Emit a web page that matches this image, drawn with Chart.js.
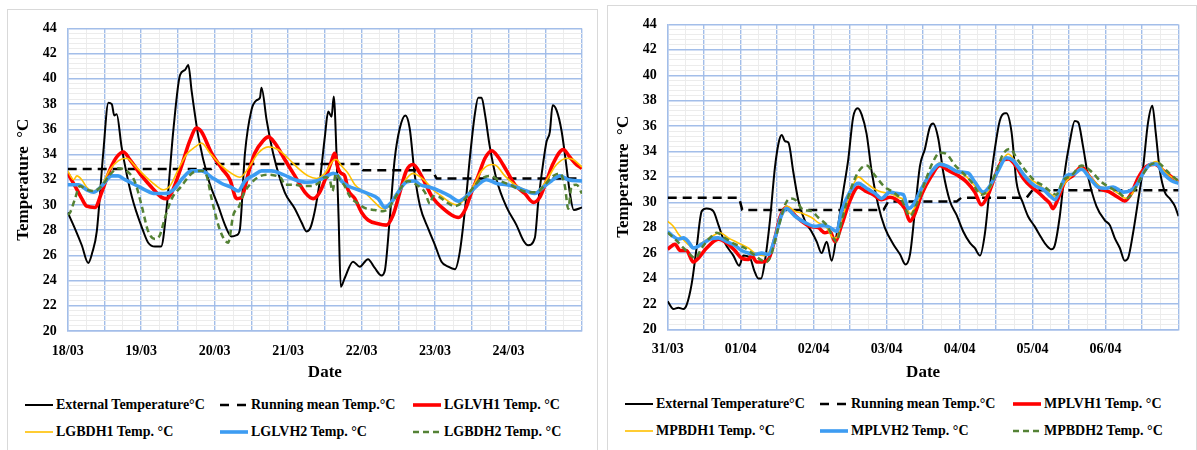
<!DOCTYPE html>
<html><head><meta charset="utf-8">
<script src="https://cdn.jsdelivr.net/npm/chart.js@4"></script>
<style>
html,body{margin:0;padding:0;background:#fff;width:1197px;height:450px;overflow:hidden;font-family:"Liberation Serif","Times New Roman",serif;}
.panel{position:absolute;border:1px solid #D9D9D9;background:#fff;box-sizing:border-box;}
.cv{position:absolute;}
.leg{position:absolute;font-weight:bold;font-size:14px;color:#000;white-space:nowrap;line-height:16px;}
.sw{position:absolute;}
</style></head><body>
<div class="panel" style="left:7px;top:9px;width:591px;height:446px"></div>
<div class="panel" style="left:607px;top:5px;width:590px;height:450px"></div>
<canvas id="c1" class="cv" style="left:7px;top:9px" width="590" height="381"></canvas>
<canvas id="c2" class="cv" style="left:607px;top:5px" width="588" height="385"></canvas>
<div id="legs"></div>
<script>
// ---------- categories / tick labels ----------
const L_DATES = ['18/03','19/03','20/03','21/03','22/03','23/03','24/03'];
const R_DATES = ['31/03','01/04','02/04','03/04','04/04','05/04','06/04'];
const L_NAMES = ['External Temperature\u00B0C','Running mean Temp.\u00B0C','LGLVH1 Temp. \u00B0C','LGBDH1 Temp. \u00B0C','LGLVH2 Temp. \u00B0C','LGBDH2 Temp. \u00B0C'];
const R_NAMES = ['External Temperature\u00B0C','Running mean Temp.\u00B0C','MPLVH1 Temp. \u00B0C','MPBDH1 Temp. \u00B0C','MPLVH2 Temp. \u00B0C','MPBDH2 Temp. \u00B0C'];

// ---------- left panel series: [hour from first date, °C] ----------
const L_EXT = [[0,29.4],[2.4,28.1],[4.6,26.8],[6.7,25.4],[8,26.2],[9.5,27.9],[11.6,34.1],[13.3,38.1],[14.4,38.0],[15.2,37.1],[16,37.2],[17.6,34.6],[20.9,30.7],[24.7,27.9],[26.3,27.0],[28.5,26.7],[30.5,26.7],[32.3,29.7],[34.5,35.9],[36.7,40.3],[38.3,40.7],[39.4,41.1],[40.5,39.0],[42.7,35.4],[46,32.0],[49.2,29.9],[51.4,28.4],[53.5,27.5],[55.2,27.6],[56.2,28.0],[57.9,34.1],[60,37.5],[61.7,38.3],[62.8,38.5],[63.3,39.3],[65,36.7],[67.1,34.1],[70.9,31.0],[74.2,29.7],[76.4,28.6],[78,27.9],[79.6,28.4],[82.3,31.8],[84,35.4],[85.1,37.4],[86.2,37.0],[86.9,38.6],[87.8,34.1],[88.5,28.9],[89.2,23.5],[90.5,24.2],[93.2,25.5],[95.4,25.1],[98.1,25.7],[100.3,25.0],[102.5,24.4],[103.6,24.8],[105.2,28.9],[106.8,33.6],[108.5,36.1],[110.3,37.1],[111.7,36.1],[113.4,32.3],[115.1,29.9],[117.8,28.1],[120,26.8],[122.1,25.5],[124.3,25.1],[126.5,24.9],[128.1,26.3],[129.8,29.7],[131.4,33.8],[133,37.2],[134.1,38.5],[135.2,38.5],[136.3,37.2],[137.9,34.6],[140.1,32.0],[143.4,29.8],[146.6,28.4],[148.8,27.2],[150.4,26.8],[152.6,27.4],[153.7,30.2],[155.3,33.3],[156.4,35.0],[157.5,35.8],[158.4,37.9],[159.7,37.5],[161.3,35.9],[162.9,33.1],[164,31.0],[165.3,29.6],[168,29.8]];
const L_MEAN = [[0,32.85],[47,32.85],[48.5,33.25],[95,33.25],[96.5,32.75],[119,32.75],[120.5,32.1],[168,32.1]];
const L_VH1 = [[0,32.5],[2.4,31.5],[4.6,30.5],[6.2,29.9],[8.9,29.8],[11.1,31.0],[13.8,32.8],[16,33.8],[18.2,34.2],[20.3,33.6],[24.2,32.3],[27.4,31.4],[30.7,30.6],[32.3,30.5],[34,31.0],[37.2,33.1],[39.9,35.1],[42.1,36.1],[43.7,35.8],[47,34.1],[50.3,32.9],[53,32.0],[55.2,30.5],[56.8,30.6],[59,32.5],[61.1,34.1],[63.9,35.1],[65.5,35.4],[67.7,34.9],[70.9,33.6],[74.2,32.3],[77.5,31.0],[80.2,30.5],[82.3,31.0],[84.5,32.3],[86.2,33.5],[87.2,34.1],[88.3,32.9],[89.4,32.5],[90.5,32.3],[91.6,31.2],[93.8,30.5],[96,29.4],[98.1,28.8],[101.4,28.5],[104.1,28.4],[106.3,29.2],[108.5,31.0],[110.6,32.7],[112.8,33.2],[115.1,32.5],[117.2,31.5],[118.9,30.7],[120.5,30.2],[122.7,29.7],[125.4,29.2],[127.6,29.0],[129.8,29.6],[131.9,31.0],[134.1,32.3],[136.3,33.7],[138.5,34.3],[140.6,33.8],[143.4,32.7],[146.1,31.6],[149.3,30.9],[152.1,30.2],[154.2,30.6],[156.4,31.9],[158.6,33.3],[161.9,34.4],[164,33.8],[166.2,33.2],[168,32.9]];
const L_BD1 = [[0,32.7],[1.9,32.0],[3,32.3],[4.6,32.0],[6.2,31.4],[8.4,31.1],[11.1,31.6],[13.8,32.8],[16.5,33.5],[19.3,33.7],[22,33.1],[25.2,32.3],[28.5,31.6],[31.2,31.2],[33.4,31.5],[36.1,32.8],[38.8,34.0],[41.6,34.6],[43.7,34.9],[46.5,34.1],[50.3,33.1],[53.5,32.5],[56.3,32.2],[59,32.9],[62.2,34.1],[65.5,34.6],[68.7,34.4],[72,33.7],[75.3,32.9],[78.5,32.3],[81.3,32.1],[84,32.5],[86.7,33.5],[87.8,33.6],[89.4,33.1],[91.6,32.5],[93.8,31.6],[97,31.0],[100.3,30.2],[103,29.7],[105.2,29.9],[107.4,30.7],[110.1,31.9],[112.8,32.5],[114,32.4],[116.7,31.9],[119.4,31.2],[122.1,30.7],[124.9,30.2],[127,30.0],[129.8,30.5],[132.5,31.5],[135.2,32.7],[138.5,33.2],[140.1,33.1],[142.8,32.3],[146.1,31.6],[149.3,31.2],[152.1,31.0],[154.2,31.2],[157,32.2],[159.7,33.2],[163,33.7],[165.1,33.6],[168,33.0]];
const L_VH2 = [[0,31.6],[3.5,31.6],[6.2,31.2],[8.4,31.0],[11.1,31.5],[14.4,32.3],[16.5,32.3],[18.7,32.0],[22,31.6],[25.2,31.2],[28.5,30.9],[31.8,30.9],[34.5,31.2],[37.8,32.2],[40.5,32.7],[43.7,32.7],[47,32.2],[50.3,31.7],[53.5,31.4],[55.7,31.1],[57.9,31.9],[61.1,32.4],[63.3,32.7],[66.6,32.7],[70.4,32.4],[74.2,32.0],[78,31.8],[81.3,31.9],[84,32.2],[86.7,32.5],[88.3,32.3],[89.4,31.9],[91.6,31.5],[94.9,31.2],[98.1,30.9],[101.4,30.5],[103.6,29.8],[105.7,30.2],[107.9,31.0],[110.6,31.8],[113.4,31.9],[115.1,31.6],[118.3,31.4],[121.6,31.1],[124.9,30.7],[127.6,30.3],[130.3,30.7],[133.6,31.5],[136.8,32.0],[140.1,31.7],[143.4,31.6],[146.6,31.4],[149.9,31.1],[152.6,30.9],[155.3,31.4],[158,31.9],[160.8,32.3],[163.5,32.0],[168,31.9]];
const L_BD2 = [[0,29.2],[0.8,29.4],[2.4,30.5],[4,31.5],[6.2,31.2],[8.4,31.1],[11.1,31.5],[13.8,32.4],[16.5,32.9],[19.3,32.7],[22,31.8],[24.2,29.9],[26.3,27.9],[28.5,27.3],[30.1,27.6],[31.8,29.0],[34,30.5],[37.2,31.5],[40.5,32.5],[43.7,32.7],[45.4,32.3],[47,30.5],[49.2,28.4],[50.8,27.4],[52.4,27.0],[54.1,29.2],[56,29.9],[57.5,30.9],[59.5,31.6],[62.2,32.2],[65.5,32.4],[68.2,32.3],[69.8,32.1],[70.9,31.6],[74.2,31.6],[76.4,31.5],[79.6,31.5],[82.3,31.8],[84,32.2],[85.6,32.0],[86.5,31.1],[87.6,32.5],[88.9,32.0],[90.5,31.5],[92.1,30.7],[94.9,30.1],[97.6,29.7],[100.3,29.6],[103,29.5],[104.7,29.7],[106.8,30.5],[109,31.4],[111.2,31.9],[113.9,31.6],[116.7,31.0],[118.3,30.1],[119.4,30.7],[121.6,30.6],[123.8,30.2],[126.5,29.9],[129.2,30.3],[131.9,31.2],[134.7,32.0],[137.9,32.3],[141.2,31.9],[144.5,31.6],[147.7,31.2],[151,31.0],[153.2,31.0],[155.9,31.6],[158.6,32.3],[160.8,32.5],[162.4,31.5],[163.5,29.7],[164.6,31.5],[166.2,31.6],[168,30.9]];

// ---------- right panel series ----------
const R_EXT = [[0,22.2],[1.9,21.6],[3.5,21.7],[5.2,21.6],[6.2,21.9],[7.9,23.6],[9.5,26.4],[11.2,29.3],[12.8,29.5],[15,29.3],[16.7,28.2],[18.8,26.8],[21.6,25.8],[23.5,25.0],[24.9,25.8],[27.1,25.6],[28.5,24.6],[29.8,24.0],[30.7,24.0],[32,25.4],[33.6,28.5],[35.3,32.8],[36.6,34.8],[37.5,35.3],[38.6,34.8],[39.7,34.7],[41.3,32.4],[43,30.1],[45.2,28.5],[47.3,27.7],[49,26.9],[50.6,26.0],[52.3,26.9],[53.9,25.4],[55.6,27.5],[57.7,30.8],[59.4,33.4],[61,36.7],[62.5,37.4],[63.8,36.9],[65.4,35.4],[67.1,32.4],[69.2,29.8],[71.4,28.0],[74.2,26.7],[76.4,25.9],[78.2,25.1],[79.7,25.9],[81.3,29.3],[83,32.9],[84.6,34.2],[86.2,35.9],[87.3,36.2],[89,35.0],[90.6,32.4],[92.8,30.1],[95,29.0],[97.2,27.7],[99.4,26.8],[101,26.4],[102.7,25.8],[104.3,27.5],[106,31.3],[107.6,34.2],[109.2,36.4],[110.9,37.0],[111.4,37.0],[113.1,35.5],[114.7,31.6],[116.9,29.9],[118.5,28.9],[120.7,28.1],[122.9,27.2],[124.6,26.6],[126.2,26.3],[127.3,26.6],[128.9,28.8],[130.6,32.4],[132.2,34.7],[133.9,36.4],[135,36.3],[136.6,34.4],[138.3,32.0],[141,29.7],[143.7,28.6],[145.4,28.2],[147,27.2],[148.7,26.4],[150.3,25.4],[151.4,25.6],[153,27.5],[154.7,30.1],[156.3,32.6],[158,36.3],[159.4,37.6],[160.5,35.5],[161.8,32.6],[163.5,30.8],[165.1,30.3],[166.8,29.7],[168,28.9]];
const R_MEAN = [[0,30.35],[23.5,30.35],[24.5,29.4],[71,29.4],[72.5,30.05],[95,30.05],[96.5,30.35],[118,30.35],[120,30.95],[168,30.95]];
const R_VH1 = [[0,26.3],[2.4,26.7],[4.1,26.2],[6.2,26.2],[8.4,25.3],[10.1,25.6],[12.8,26.4],[16.7,27.1],[19.4,26.8],[22.1,26.2],[24.3,25.6],[26.5,25.5],[27.6,25.8],[29.3,25.3],[30.9,25.3],[33.1,25.5],[35.3,27.2],[36.9,28.8],[39.1,29.6],[41.3,29.1],[44.1,28.5],[46.8,28.1],[49.5,28.0],[51.7,27.6],[53.4,27.7],[55,26.9],[57.2,28.2],[59.9,30.1],[62.7,31.2],[64.9,30.9],[67.6,30.6],[70.3,30.2],[73.1,30.4],[75.8,30.1],[78,29.5],[79.7,28.5],[81.3,29.1],[83.5,30.6],[86.8,32.1],[89.5,32.9],[92.3,32.5],[95.5,32.1],[98.3,31.6],[101,30.8],[103.2,29.8],[105.4,30.6],[107.6,32.0],[109.8,33.2],[112,33.4],[114.7,32.8],[116.9,31.9],[119.6,31.2],[121.8,30.8],[124,30.3],[125.7,29.9],[126.7,29.5],[128.4,30.3],[130.6,31.6],[133.3,32.1],[136.1,32.8],[138.8,32.0],[142.1,31.1],[145.4,30.8],[148.1,30.4],[150.3,30.1],[152.5,30.7],[154.7,31.9],[157.4,32.8],[160.2,33.0],[162.9,32.5],[165.7,32.0],[168,31.6]];
const R_BD1 = [[0,28.5],[1.9,28.1],[3.5,27.5],[6.2,26.8],[8.4,26.4],[11.2,26.8],[14.5,27.3],[17.2,27.6],[19.9,27.2],[23.2,26.8],[26.5,26.4],[28.7,26.0],[31.5,25.8],[33.6,26.2],[35.8,27.7],[37.5,29.0],[39.1,29.7],[41.9,29.3],[44.6,29.1],[47.3,28.8],[49.5,28.4],[52.3,28.0],[54.5,27.2],[55.5,27.2],[57.2,28.6],[59.9,30.6],[62.7,32.0],[64.9,31.6],[67.6,31.1],[70.3,30.8],[73.1,30.7],[75.8,30.4],[78,30.1],[79.7,29.1],[81.3,29.6],[84,31.1],[86.8,32.4],[89.5,33.1],[92.3,32.8],[95.5,32.4],[98.3,32.0],[101,31.3],[103.8,30.6],[106,31.1],[108.2,32.4],[110.3,33.4],[112,33.8],[115.2,32.9],[118,32.0],[120.7,31.6],[123.5,31.1],[126.2,30.6],[127.8,30.4],[130,31.3],[132.8,32.1],[136.1,32.7],[139.4,31.9],[142.6,31.2],[145.4,31.1],[148.1,30.7],[150.9,30.3],[153.1,30.8],[155.2,31.9],[158,32.8],[160.7,33.2],[163.5,32.4],[166.2,31.9],[168,31.6]];
const R_VH2 = [[0,27.7],[1.9,27.3],[3.5,27.1],[5.2,27.2],[6.8,26.9],[8.4,26.4],[11.2,26.7],[13.9,27.1],[16.7,27.2],[19.4,26.9],[22.1,26.6],[24.3,26.2],[26.5,26.0],[28.7,25.9],[30.9,26.0],[33.1,25.9],[35.3,27.2],[37.3,28.9],[39.1,29.5],[41.9,28.9],[45.2,28.4],[48.4,28.1],[51.2,28.2],[53.4,28.0],[55.6,27.7],[57.2,29.3],[59.9,30.8],[62.7,31.5],[65.4,31.1],[68.2,30.7],[70.3,30.3],[73.1,30.8],[75.3,30.7],[77.5,30.6],[79.1,29.5],[80.8,29.8],[83.5,31.1],[86.8,32.4],[89.5,33.0],[92.3,32.8],[95.5,32.4],[98.8,32.3],[101,31.6],[103.8,30.8],[106,31.3],[108.7,32.5],[111.4,33.5],[113.6,33.3],[115.2,32.8],[118,31.9],[120.7,31.3],[123.5,31.0],[126.2,30.4],[127.3,30.2],[129.5,31.3],[131.1,32.1],[133.3,32.2],[136.1,32.6],[138.8,31.9],[141.5,31.2],[143.7,31.1],[146.5,31.2],[149.8,30.8],[152,30.9],[154.1,31.3],[156.9,32.5],[159.1,33.0],[160.7,33.0],[162.9,32.3],[165.7,31.7],[168,31.5]];
const R_BD2 = [[0,27.6],[2.4,27.1],[5.2,26.4],[7.3,25.9],[9,25.6],[11.2,26.4],[13.9,27.2],[16.1,27.6],[18.8,27.2],[22.1,26.7],[25.4,26.4],[28.2,25.9],[30.4,25.5],[32.5,25.3],[34.2,26.0],[36.4,28.0],[38.6,29.8],[40.2,30.3],[41.9,30.2],[44.6,29.4],[47.3,29.3],[49.5,28.8],[52.3,28.2],[54.5,27.2],[55.5,26.9],[57.2,28.5],[59.9,30.8],[62.7,32.4],[65.4,32.9],[68.2,32.1],[71.4,31.2],[74.2,30.8],[76.9,30.2],[79.7,28.9],[81.8,29.8],[84.6,31.6],[87.3,33.2],[89.5,33.9],[91.7,33.8],[94.5,32.9],[97.2,32.3],[99.9,31.6],[103.2,30.6],[105.4,31.0],[108.2,32.5],[110.3,33.8],[112.5,34.2],[115.2,33.3],[118,32.4],[120.7,31.7],[123.5,31.3],[126.2,30.8],[127.8,30.6],[130,31.7],[132.8,32.1],[136.1,32.9],[139.4,32.4],[142.6,31.6],[145.9,31.1],[148.7,30.7],[150.9,30.3],[153.1,30.8],[155.8,32.0],[158.5,32.9],[161.3,33.1],[164,32.5],[166.8,31.9],[168,31.7]];

// ---------- styles ----------
const FONT = '"Liberation Serif","Times New Roman",serif';
const MAJOR = '#A3BEE9', MINOR = '#ECECEC';
const STYLES = [
  {color:'#000000', w:2,   dash:[],    mono:true},
  {color:'#000000', w:2.5, dash:[9,6], mono:false},
  {color:'#FF0000', w:3.6, dash:[],    mono:true},
  {color:'#FFC000', w:1.6, dash:[],    mono:true},
  {color:'#3D9CF2', w:3.6, dash:[],    mono:true},
  {color:'#548235', w:2.5, dash:[6,4], mono:true}
];
const X_TICKS = []; for (let h = 0; h <= 168; h += 6) X_TICKS.push(h);
const Y_TICKS = []; for (let k = 0; k <= 60; k++) Y_TICKS.push(Math.round((20 + k * 0.4) * 10) / 10);
const isMajX = v => v % 12 === 0;
const isMajY = v => Math.abs(v / 2 - Math.round(v / 2)) < 1e-6;

function makeChart(id, seriesList, names, dates, g) {
  const datasets = seriesList.map((pts, i) => ({
    label: names[i],
    data: pts.map(p => ({x: p[0], y: p[1]})),
    borderColor: STYLES[i].color, borderWidth: STYLES[i].w, borderDash: STYLES[i].dash,
    pointRadius: 0, fill: false,
    cubicInterpolationMode: STYLES[i].mono ? 'monotone' : 'default',
    tension: 0, order: seriesList.length - i,
    borderJoinStyle: 'round', borderCapStyle: 'butt'
  }));
  return new Chart(document.getElementById(id), {
    type: 'line',
    data: {datasets},
    options: {
      responsive: false, animation: false, events: [],
      layout: {padding: {left: 0, right: g.right, top: g.top, bottom: 0}},
      plugins: {legend: {display: false}, tooltip: {enabled: false}},
      scales: {
        x: {
          type: 'linear', min: 0, max: 168,
          afterBuildTicks: s => { s.ticks = X_TICKS.map(v => ({value: v})); },
          afterFit: s => { s.height = g.xh; },
          ticks: {autoSkip: false, maxRotation: 0, minRotation: 0, padding: 12, color: '#000',
            font: {family: FONT, size: 14, weight: 'bold'},
            callback: v => (v % 24 === 0 && v < 168) ? dates[v / 24] : ''},
          grid: {drawTicks: false, color: c => (c.tick && isMajX(c.tick.value)) ? MAJOR : MINOR,
                 lineWidth: c => (c.tick && isMajX(c.tick.value)) ? 1.4 : 1},
          border: {display: true, color: MAJOR, width: 1.4},
          title: {display: true, text: 'Date', color: '#000',
            font: {family: FONT, size: 17, weight: 'bold'}, padding: {top: 0, bottom: 6.8}}
        },
        y: {
          type: 'linear', min: 20, max: 44,
          afterBuildTicks: s => { s.ticks = Y_TICKS.map(v => ({value: v})); },
          afterFit: s => { s.width = 60.7; },
          ticks: {autoSkip: false, padding: 11, color: '#000',
            font: {family: FONT, size: 14, weight: 'bold'},
            callback: v => isMajY(v) ? String(Math.round(v)) : ''},
          grid: {drawTicks: false, color: c => (c.tick && isMajY(c.tick.value)) ? MAJOR : MINOR,
                 lineWidth: c => (c.tick && isMajY(c.tick.value)) ? 1.4 : 1},
          border: {display: true, color: MAJOR, width: 1.4},
          title: {display: true, text: 'Temperature  \u00B0C', color: '#000',
            font: {family: FONT, size: 17, weight: 'bold'}, padding: {top: 6.8, bottom: 0}}
        }
      }
    }
  });
}

makeChart('c1', [L_EXT, L_MEAN, L_VH1, L_BD1, L_VH2, L_BD2], L_NAMES, L_DATES, {top: 14.1, right: 15, xh: 59});
makeChart('c2', [R_EXT, R_MEAN, R_VH1, R_BD1, R_VH2, R_BD2], R_NAMES, R_DATES, {top: 15.3, right: 16.5, xh: 60.7});

// ---------- HTML legends ----------
function legend(names, x0, rows) {
  const colSw = [0, 195, 388], colTx = [31, 226, 419];
  const host = document.getElementById('legs');
  names.forEach((n, i) => {
    const r = Math.floor(i / 3), c = i % 3, st = STYLES[i];
    const yc = rows[r];
    const svg = document.createElementNS('http://www.w3.org/2000/svg', 'svg');
    svg.setAttribute('class', 'sw');
    svg.setAttribute('width', '30'); svg.setAttribute('height', '10');
    svg.style.left = (x0 + colSw[c]) + 'px'; svg.style.top = (yc - 5) + 'px';
    const ln = document.createElementNS('http://www.w3.org/2000/svg', 'line');
    ln.setAttribute('x1', '0'); ln.setAttribute('x2', '28');
    ln.setAttribute('y1', '5'); ln.setAttribute('y2', '5');
    ln.setAttribute('stroke', st.color); ln.setAttribute('stroke-width', String(st.w));
    if (st.dash.length) ln.setAttribute('stroke-dasharray', i === 1 ? '9,8' : '6,4');
    svg.appendChild(ln); host.appendChild(svg);
    const d = document.createElement('div');
    d.className = 'leg'; d.textContent = n;
    d.style.left = (x0 + colTx[c]) + 'px'; d.style.top = (yc - 8) + 'px';
    host.appendChild(d);
  });
}
legend(L_NAMES, 25, [405, 432]);
legend(R_NAMES, 625, [404, 431]);
</script>
</body></html>
